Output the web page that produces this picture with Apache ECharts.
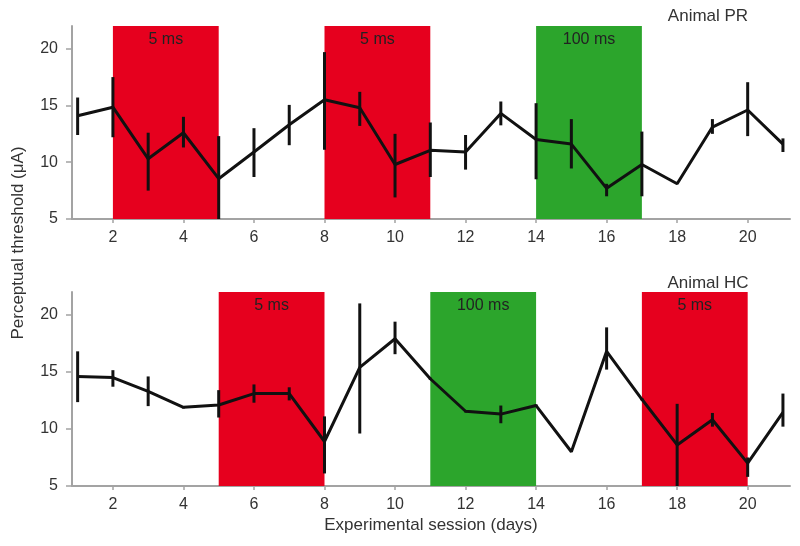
<!DOCTYPE html>
<html>
<head>
<meta charset="utf-8">
<script src="https://cdn.jsdelivr.net/npm/echarts@6/dist/echarts.min.js"></script>
<style>
html,body{margin:0;padding:0;background:#fff;}
#chart{width:800px;height:546px;}
</style>
</head>
<body>
<div id="chart"></div>
<script>
// ---- Data ----
const sessions = [1,2,3,4,5,6,7,8,9,10,11,12,13,14,15,16,17,18,19,20,21];
const xTicks = [2,4,6,8,10,12,14,16,18,20];
const yTicks = [5,10,15,20];

const prMean = [14.1,14.85,10.3,12.6,8.55,10.9,13.3,15.5,14.8,9.8,11.05,10.9,14.3,12.0,11.6,7.7,9.8,8.1,13.1,14.6,11.6];
const prLow  = [12.4,12.2,7.5,11.3,5.0,8.7,11.5,11.1,13.2,6.9,8.7,9.35,13.25,8.5,9.45,7.0,7.0,8.1,12.5,12.3,10.9];
const prHigh = [15.7,17.5,12.6,14.0,12.3,13.0,15.05,19.7,16.2,12.5,13.5,12.4,15.35,15.2,13.8,8.1,12.7,8.1,13.8,17.05,12.1];

const hcMean = [14.6,14.5,13.3,11.9,12.1,13.1,13.1,8.9,15.4,17.9,14.4,11.55,11.3,12.05,8.0,16.8,12.6,8.6,10.8,7.0,11.45];
const hcLow  = [12.35,13.7,12.0,11.8,11.0,12.3,12.5,6.1,9.6,16.55,14.3,11.45,10.5,11.95,8.0,15.2,12.5,5.0,10.2,5.8,10.2];
const hcHigh = [16.8,15.15,14.6,12.0,13.4,13.9,13.65,11.1,21.0,19.4,14.5,11.65,12.05,12.15,8.0,18.9,12.7,12.2,11.4,7.5,13.1];

// blocks: [start, end, label, kind]
const prBlocks = [[2,5,'5 ms','short'],[8,11,'5 ms','short'],[14,17,'100 ms','long']];
const hcBlocks = [[5,8,'5 ms','short'],[11,14,'100 ms','long'],[17,20,'5 ms','short']];

const panelNames = ['Animal PR','Animal HC'];
const xTitle = 'Experimental session (days)';
const yTitle = 'Perceptual threshold (\u03bcA)';

// ---- Build ----
const kindColor = {short:'#e6001e', long:'#2ca52c'};
const font = 'Liberation Sans, Arial, Helvetica, sans-serif';
const axisGray = '#a3a3a3';

function xAxisDef(gi, showName){
  return {
    type:'value', gridIndex:gi, min:0.84, max:21.2,
    axisLine:{show:true, lineStyle:{color:axisGray, width:2}},
    axisTick:{show:true, length:4, lineStyle:{color:axisGray, width:1.5}, customValues:xTicks},
    axisLabel:{color:'#333', fontSize:16, fontFamily:font, margin:11, customValues:xTicks},
    splitLine:{show:false},
    name: showName ? xTitle : '',
    nameLocation:'middle', nameGap:31,
    nameTextStyle:{color:'#333', fontSize:17, fontFamily:font}
  };
}
function yAxisDef(gi){
  return {
    type:'value', gridIndex:gi, min:5, max:22,
    axisLine:{show:true, lineStyle:{color:axisGray, width:2}},
    axisTick:{show:true, length:6, lineStyle:{color:axisGray, width:1.5}, customValues:yTicks},
    axisLabel:{color:'#333', fontSize:16, fontFamily:font, margin:14, customValues:yTicks},
    splitLine:{show:false}
  };
}

function areaSeries(gi, blocks){
  return {
    type:'line', xAxisIndex:gi, yAxisIndex:gi, data:[], z:1, silent:true,
    markArea:{
      silent:true,
      data: blocks.map(b => [
        {xAxis:b[0], itemStyle:{color:kindColor[b[3]], opacity:1},
         label:{show:true, position:'insideTop', distance:6, formatter:b[2],
                color:'#222', fontSize:16, fontFamily:font}},
        {xAxis:b[1]}
      ])
    }
  };
}
function lineSeries(gi, mean){
  return {
    type:'line', xAxisIndex:gi, yAxisIndex:gi, z:5, symbol:'none',
    data: sessions.map((s,i)=>[s, mean[i]]),
    lineStyle:{color:'#111', width:3}, animation:false
  };
}
function errSeries(gi, lo, hi){
  return {
    type:'custom', xAxisIndex:gi, yAxisIndex:gi, z:6,
    data: sessions.map((s,i)=>[s, lo[i], hi[i]]),
    encode:{x:0, y:[1,2]},
    renderItem:function(params, api){
      const p1 = api.coord([api.value(0), api.value(1)]);
      const p2 = api.coord([api.value(0), api.value(2)]);
      return {type:'line', shape:{x1:p1[0], y1:p1[1], x2:p2[0], y2:p2[1]},
              style:{stroke:'#111', lineWidth:3}};
    },
    animation:false
  };
}

const chart = echarts.init(document.getElementById('chart'), null, {renderer:'canvas'});
chart.setOption({
  animation:false,
  backgroundColor:'#fff',
  grid:[
    {left:72, top:26, width:718, height:193},
    {left:72, top:292, width:718, height:194}
  ],
  xAxis:[xAxisDef(0,false), xAxisDef(1,true)],
  yAxis:[yAxisDef(0), yAxisDef(1)],
  graphic:[
    {type:'text', x:18, y:243, rotation:Math.PI/2, z:100,
     style:{text:yTitle, fill:'#333', fontSize:17, fontFamily:font, align:'center', verticalAlign:'middle'}},
    {type:'text', x:708, y:16, z:100,
     style:{text:panelNames[0], fill:'#333', fontSize:17, fontFamily:font, align:'center', verticalAlign:'middle'}},
    {type:'text', x:708, y:283, z:100,
     style:{text:panelNames[1], fill:'#333', fontSize:17, fontFamily:font, align:'center', verticalAlign:'middle'}}
  ],
  series:[
    areaSeries(0, prBlocks), lineSeries(0, prMean), errSeries(0, prLow, prHigh),
    areaSeries(1, hcBlocks), lineSeries(1, hcMean), errSeries(1, hcLow, hcHigh)
  ]
});
</script>
</body>
</html>
